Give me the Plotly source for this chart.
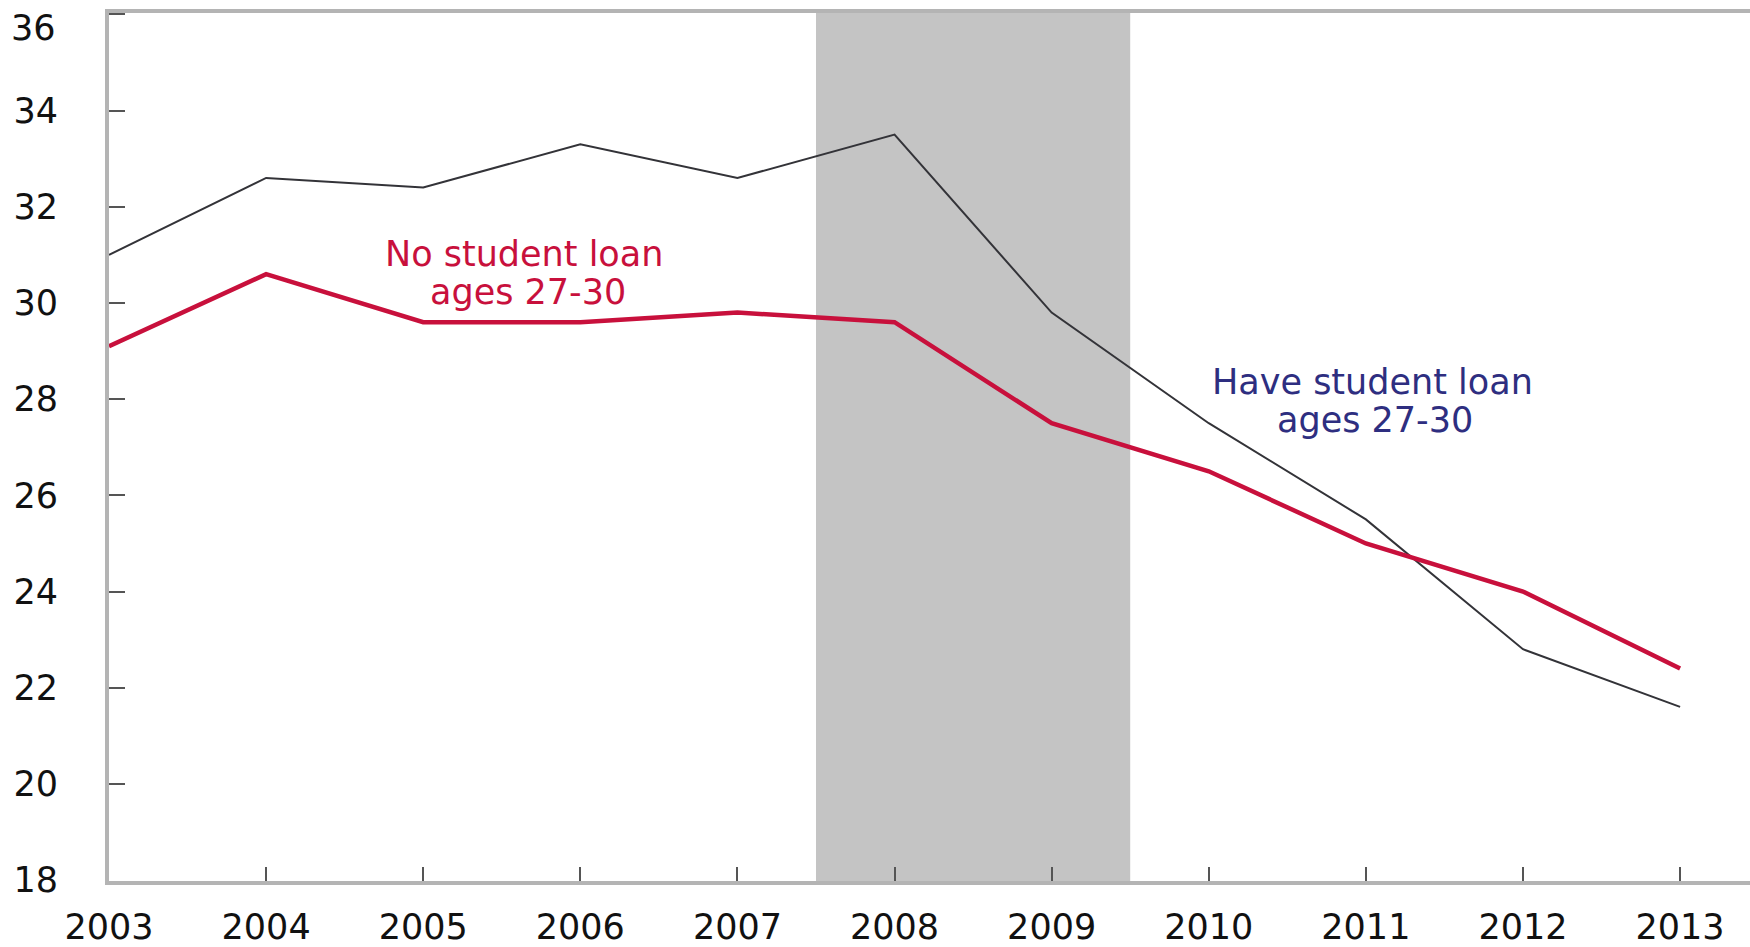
import plotly.graph_objects as go

# Share of young adults (ages 27-30), by student-loan status
years = [2003, 2004, 2005, 2006, 2007, 2008, 2009, 2010, 2011, 2012, 2013]
have_loan = [31.0, 32.6, 32.4, 33.3, 32.6, 33.5, 29.8, 27.5, 25.5, 22.8, 21.6]
no_loan = [29.1, 30.6, 29.6, 29.6, 29.8, 29.6, 27.5, 26.5, 25.0, 24.0, 22.4]

recession = (2007.5, 2009.5)
y_ticks = [18, 20, 22, 24, 26, 28, 30, 32, 34, 36]
y_tick_text = ["18", "20", "22", "24", "26", "28", "30", "32", "34", ""]
top_tick_label = "36"  # drawn separately, nudged below the top edge

# Series labels, one entry per text line: (x, y, text)
no_loan_label = [(2005.64, 31.02, "No student loan"), (2005.67, 30.23, "ages 27-30")]
have_loan_label = [(2011.04, 28.36, "Have student loan"), (2011.06, 27.57, "ages 27-30")]

RED = "#c8103c"
DARK = "#333338"
NAVY = "#2e2e80"
AXIS_GREY = "#b4b4b4"
FONT = "DejaVu Sans"

fig = go.Figure()

fig.add_trace(go.Scatter(
    x=years, y=have_loan, mode="lines",
    line=dict(color=DARK, width=2),
    name="Have student loan",
))
fig.add_trace(go.Scatter(
    x=years, y=no_loan, mode="lines",
    line=dict(color=RED, width=4.5),
    name="No student loan",
))

# Recession shading
fig.add_shape(
    type="rect", xref="x", yref="paper",
    x0=recession[0], x1=recession[1], y0=0, y1=1,
    fillcolor="#c4c4c4", line=dict(width=0), layer="below",
)

for lines, color in ((no_loan_label, RED), (have_loan_label, NAVY)):
    for x, y, text in lines:
        fig.add_annotation(
            x=x, y=y, text=text, showarrow=False,
            font=dict(family=FONT, size=35, color=color),
        )

fig.add_annotation(
    xref="paper", x=0, y=36, yshift=-14, xanchor="right", xshift=-51,
    text=top_tick_label, showarrow=False,
    font=dict(family=FONT, size=35, color="#111111"),
)

fig.update_layout(
    width=1750, height=947,
    margin=dict(l=109, r=0, t=13, b=63),
    paper_bgcolor="white", plot_bgcolor="white",
    showlegend=False,
    font=dict(family=FONT, size=35, color="#111111"),
)

fig.update_xaxes(
    range=[2003, 2013.445],
    tickmode="array", tickvals=years, ticktext=[str(y) for y in years],
    showgrid=False, zeroline=False,
    showline=True, linecolor=AXIS_GREY, linewidth=4, mirror=True,
    ticks="inside", ticklen=14, tickwidth=1.5, tickcolor="#555555",
    ticklabelstandoff=12,
)
fig.update_yaxes(
    range=[17.98, 36.03],
    tickmode="array", tickvals=y_ticks, ticktext=y_tick_text,
    showgrid=False, zeroline=False,
    showline=True, linecolor=AXIS_GREY, linewidth=4,
    ticks="inside", ticklen=16, tickwidth=1.5, tickcolor="#555555",
    ticklabelstandoff=40,
)

fig.write_html("out.html")
